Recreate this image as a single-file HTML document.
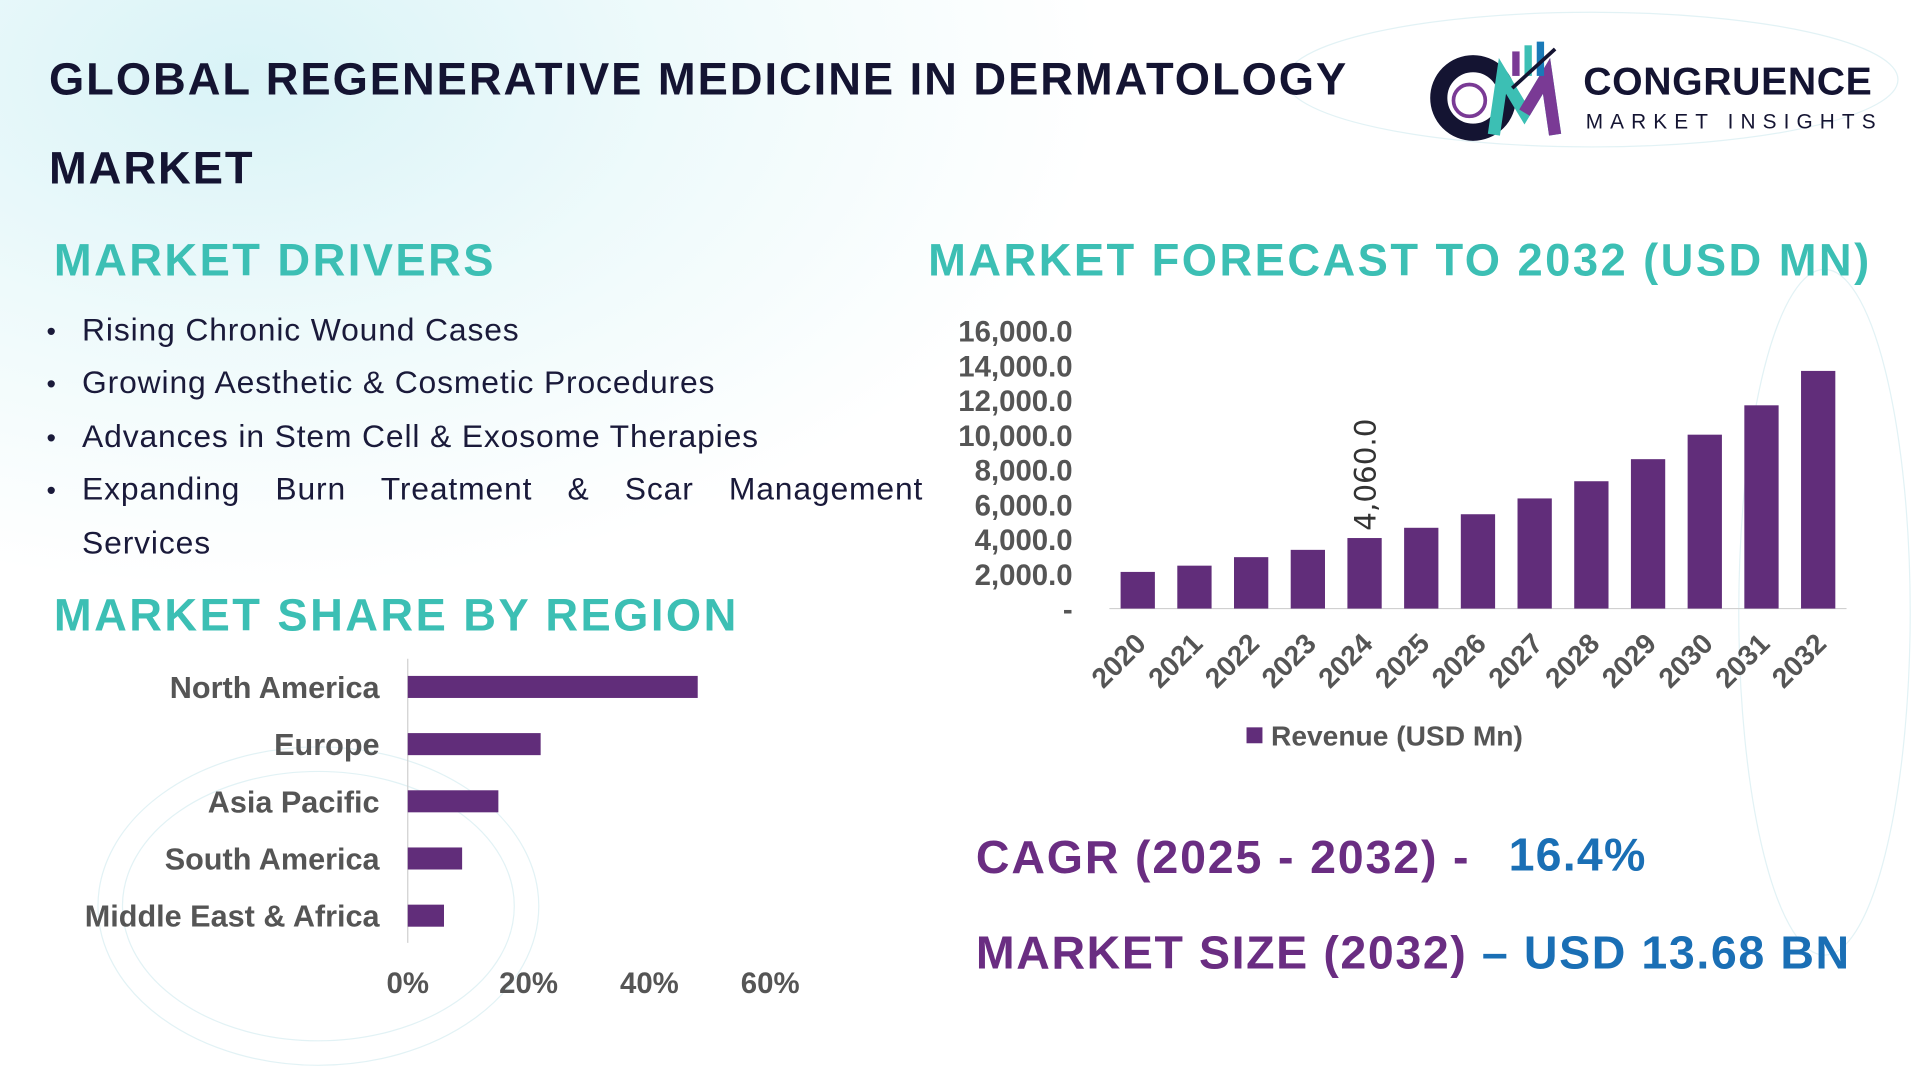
<!DOCTYPE html>
<html><head><meta charset="utf-8">
<style>
html,body{margin:0;padding:0;width:1920px;height:1080px;overflow:hidden;background:#fff}
#stage{position:absolute;left:0;top:0;width:1568px;height:882px;transform:scale(1.22449);transform-origin:0 0;font-family:"Liberation Sans",sans-serif;
background:radial-gradient(ellipse 700px 420px at 200px 60px,#d9f3f7 0%,#eefafb 50%,rgba(255,255,255,0) 100%),#fff;overflow:hidden}
.t{position:absolute;white-space:nowrap}
.h{color:#3cbfb4;font-weight:bold;font-size:37px;letter-spacing:2px}
.drv{position:absolute;left:67px;font-size:26px;color:#1a1a3a;letter-spacing:0.7px;white-space:nowrap}
.bul{position:absolute;left:38px;font-size:22px;color:#1a1a3a}
</style></head><body>
<div id="stage">
<svg style="position:absolute;left:0;top:0" width="1568" height="882">
<g fill="none" stroke="#d6edf1" stroke-width="1" opacity="0.7">
<ellipse cx="260" cy="740" rx="180" ry="130"/><ellipse cx="260" cy="740" rx="160" ry="110"/>
<ellipse cx="1300" cy="65" rx="250" ry="55"/>
<ellipse cx="1490" cy="500" rx="70" ry="280"/>
</g></svg>

<div class="t" style="left:40px;top:28px;font-size:37px;letter-spacing:1.6px;font-weight:bold;color:#141432;line-height:73px;white-space:normal;width:1120px">GLOBAL REGENERATIVE MEDICINE IN DERMATOLOGY MARKET</div>

<div style="position:absolute;left:1165px;top:32px;width:390px;height:85px">
<svg width="120" height="85" style="position:absolute;left:0;top:0">
<circle cx="38" cy="48" r="28" fill="none" stroke="#141432" stroke-width="14"/>
<circle cx="35" cy="50" r="13" fill="none" stroke="#7a3a95" stroke-width="3"/>
<path d="M55 78 L62 30 L80 60 L98 30 L105 78" fill="none" stroke="#3cbfb4" stroke-width="10"/>
<path d="M80 60 L98 30 L105 78" fill="none" stroke="#7a3a95" stroke-width="10"/>
<rect x="70" y="10" width="6" height="20" fill="#7a3a95"/><rect x="80" y="5" width="6" height="25" fill="#3cbfb4"/><rect x="90" y="2" width="6" height="28" fill="#1a7ab8"/>
<path d="M70 40 L105 8" stroke="#141432" stroke-width="3"/>
</svg>
<div class="t" style="left:128px;top:16px;font-size:32px;font-weight:bold;color:#141432;letter-spacing:0.5px">CONGRUENCE</div>
<div class="t" style="left:130px;top:58px;font-size:17px;letter-spacing:5.8px;color:#141432">MARKET INSIGHTS</div>
</div>

<div class="t h" style="left:44px;top:192px">MARKET DRIVERS</div>
<div class="bul" style="top:258px">•</div>
<div class="drv" style="top:254px">Rising Chronic Wound Cases</div>
<div class="bul" style="top:301px">•</div>
<div class="drv" style="top:297px">Growing Aesthetic &amp; Cosmetic Procedures</div>
<div class="bul" style="top:345px">•</div>
<div class="drv" style="top:341px">Advances in Stem Cell &amp; Exosome Therapies</div>
<div class="bul" style="top:388px">•</div>
<div class="drv" style="top:384px;width:687px;white-space:normal;text-align:justify;text-align-last:justify">Expanding Burn Treatment &amp; Scar Management</div>
<div class="drv" style="top:428px">Services</div>

<div class="t h" style="left:44px;top:482px">MARKET SHARE BY REGION</div>
<div class="t h" style="left:758px;top:192px">MARKET FORECAST TO 2032 (USD MN)</div>

<svg id="bar" style="position:absolute;left:0;top:0" width="1568" height="882"></svg>
<svg id="hbar" style="position:absolute;left:0;top:0" width="1568" height="882"></svg>

<div class="t" style="left:797px;top:680px;font-size:38px;letter-spacing:1.5px;font-weight:bold;color:#6a2d82">CAGR (2025 - 2032) -</div>
<div class="t" style="left:1232px;top:678px;font-size:38px;letter-spacing:1px;font-weight:bold;color:#1a6fb5">16.4%</div>
<div class="t" style="left:797px;top:758px;font-size:38px;letter-spacing:1.3px;font-weight:bold;color:#6a2d82">MARKET SIZE (2032) <span style="color:#1a6fb5">– USD 13.68 BN</span></div>
</div>
<script>
const years=["2020","2021","2022","2023","2024","2025","2026","2027","2028","2029","2030","2031","2032"];
const revenue=[2110,2470,2960,3380,4060,4650,5430,6340,7330,8600,10010,11700,13680];
const yTicks=[0,2000,4000,6000,8000,10000,12000,14000,16000];
const regions=["North America","Europe","Asia Pacific","South America","Middle East & Africa"];
const shares=[48,22,15,9,6];
const xTicks=[0,20,40,60];
const NS="http://www.w3.org/2000/svg";
function mk(p,tag,at,txt){const e=document.createElementNS(NS,tag);for(const k in at)e.setAttribute(k,at[k]);if(txt!==undefined)e.textContent=txt;p.appendChild(e);return e;}
const bar=document.getElementById('bar');
const x0=906,x1=1508,yb=497,yt=270,ymax=16000;
const yS=v=>yb-(v/ymax)*(yb-yt);
const band=(x1-x0)/years.length;
const xS=i=>x0+band*i+band/2;
let ax=mk(bar,'line',{x1:x0,x2:x1,y1:yb,y2:yb,stroke:'#d0d0d0','stroke-width':1});

yTicks.forEach(v=>{const t=mk(bar,'text',{x:876,y:yS(v)+9,'text-anchor':'end','font-size':24,'font-weight':'bold',fill:'#555'},v===0?'-':v.toLocaleString('en-US',{minimumFractionDigits:1}));
});
revenue.forEach((v,i)=>{const r=mk(bar,'rect',{x:xS(i)-14,y:yS(v),width:28,height:yb-yS(v),fill:'#612d7a'});

const t=mk(bar,'text',{x:0,y:0,transform:`translate(${xS(i)+8},${yb+30}) rotate(-45)`,'text-anchor':'end','font-size':23,'font-weight':'bold',fill:'#555'},years[i]);

if(years[i]==="2024"){const l=mk(bar,'text',{x:0,y:0,transform:`translate(${xS(i)+9},${yS(v)-6}) rotate(-90)`,'font-size':24,fill:'#333','font-family':'DejaVu Sans, sans-serif'},v.toLocaleString('en-US',{minimumFractionDigits:1}));
}
});
let lg=mk(bar,'rect',{x:1018,y:594,width:13,height:13,fill:'#612d7a'});

let lt=mk(bar,'text',{x:1038,y:609,'font-size':23,'font-weight':'bold',fill:'#555'},'Revenue (USD Mn)');

const hb=document.getElementById('hbar');
const hx0=333,hx60=629;
const hxS=p=>hx0+(p/60)*(hx60-hx0);
const rowY=i=>561+i*46.7;
let va=mk(hb,'line',{x1:hx0,x2:hx0,y1:538,y2:770,stroke:'#d0d0d0','stroke-width':1});

regions.forEach((r,i)=>{const b=mk(hb,'rect',{x:hx0,y:rowY(i)-9,width:hxS(shares[i])-hx0,height:18,fill:'#612d7a'});

const t=mk(hb,'text',{x:310,y:rowY(i)+9,'text-anchor':'end','font-size':25,'font-weight':'bold',fill:'#555'},r);
});
xTicks.forEach(p=>{const t=mk(hb,'text',{x:hxS(p),y:811,'text-anchor':'middle','font-size':24,'font-weight':'bold',fill:'#555'},p+'%');
});
</script>
</body></html>
